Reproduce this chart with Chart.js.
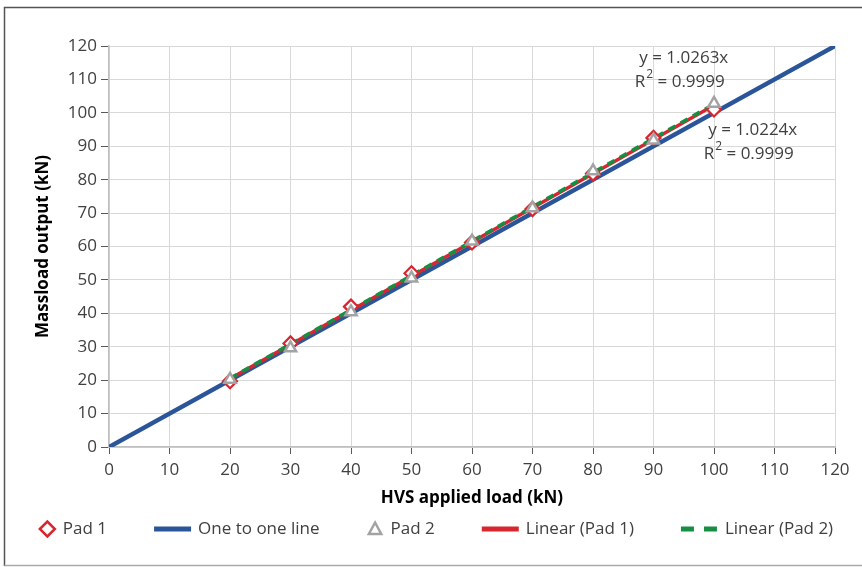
<!DOCTYPE html>
<html>
<head>
<meta charset="utf-8">
<script src="https://cdn.jsdelivr.net/npm/chart.js@4/dist/chart.umd.min.js"></script>
<style>
  html, body { margin: 0; padding: 0; background: #fff; }
  #wrap { position: relative; width: 862px; height: 567px; }
</style>
</head>
<body>
<div id="wrap"><canvas id="chart" width="862" height="567"></canvas></div>
<script>
'use strict';

// HVS applied load (kN)
const loads = [20, 30, 40, 50, 60, 70, 80, 90, 100];
// Massload output (kN)
const pad1 = [19.7, 31, 42, 52, 61.2, 71.2, 81.8, 92.5, 101];
const pad2 = [20.2, 29.6, 40.4, 50.5, 61.6, 71.5, 82.6, 91.8, 102.8];

// one to one line ends
const oneToOneX = [0, 120];
const oneToOneY = [0, 120];

// trendline ends (y = 1.0224x for Pad 1, y = 1.0263x for Pad 2)
const trendX = [20, 100];
const trend1Y = [20.45, 102.24];
const trend2Y = [20.53, 102.63];

const trendLabels = [
    { eq: 'y = 1.0263x', r2: '0.9999' },
    { eq: 'y = 1.0224x', r2: '0.9999' }
];

const axisTicks = [0, 10, 20, 30, 40, 50, 60, 70, 80, 90, 100, 110, 120];

const FONT = '"Open Sans", "Noto Sans", sans-serif';
const TEXT = '#404040';
const BLUE = '#2a5599';
const RED = '#d7262f';
const GREEN = '#178f42';
const GREY = '#a3a3a3';

const pts = (xs, ys) => xs.map((x, i) => ({ x: x, y: ys[i] }));

// where each trendline label is anchored (data units)
const labelAnchors = [{ x: 95, y: 116.4 }, { x: 106.4, y: 94.9 }];

const framePlugin = {
    id: 'frame',
    beforeDraw(chart) {
        const ctx = chart.ctx;
        ctx.save();
        ctx.fillStyle = '#fff';
        ctx.fillRect(0, 0, chart.width, chart.height);
        ctx.lineWidth = 1.5;
        ctx.strokeStyle = '#555';
        ctx.beginPath();
        ctx.moveTo(4.5, 566);
        ctx.lineTo(4.5, 7.5);
        ctx.lineTo(chart.width, 7.5);
        ctx.stroke();
        ctx.strokeStyle = '#aaa';
        ctx.beginPath();
        ctx.moveTo(4.5, 565.5);
        ctx.lineTo(chart.width, 565.5);
        ctx.stroke();
        ctx.restore();
    }
};

function drawR2(ctx, cx, y, val) {
    ctx.font = '17px ' + FONT;
    const wR = ctx.measureText('R').width + 1;
    const rest = ' = ' + val;
    const wRest = ctx.measureText(rest).width;
    ctx.font = '12px ' + FONT;
    const w2 = ctx.measureText('2').width;
    const total = wR + w2 + wRest;
    let x = cx - total / 2;
    ctx.textAlign = 'left';
    ctx.font = '17px ' + FONT;
    ctx.fillText('R', x, y);
    x += wR;
    ctx.font = '12px ' + FONT;
    ctx.fillText('2', x, y - 7);
    x += w2;
    ctx.font = '17px ' + FONT;
    ctx.fillText(rest, x, y);
}

const labelPlugin = {
    id: 'trendLabels',
    afterDatasetsDraw(chart) {
        const ctx = chart.ctx;
        const xs = chart.scales.x, ys = chart.scales.y;
        ctx.save();
        ctx.fillStyle = TEXT;
        ctx.textBaseline = 'middle';
        trendLabels.forEach((lab, i) => {
            const cx = xs.getPixelForValue(labelAnchors[i].x);
            const cy = ys.getPixelForValue(labelAnchors[i].y);
            ctx.font = '17px ' + FONT;
            ctx.textAlign = 'center';
            ctx.fillText(lab.eq, cx, cy);
            drawR2(ctx, cx - 4, cy + 24, lab.r2);
        });
        ctx.restore();
    }
};

function legendMarker(ctx, ds, x, y) {
    ctx.save();
    if (ds.legendKind === 'line') {
        ctx.strokeStyle = ds.borderColor;
        ctx.lineWidth = 5;
        ctx.setLineDash(ds.borderDash && ds.borderDash.length ? [13, 10] : []);
        ctx.beginPath();
        ctx.moveTo(x, y);
        ctx.lineTo(x + 37, y);
        ctx.stroke();
    } else {
        ctx.strokeStyle = ds.pointBorderColor;
        ctx.fillStyle = '#fff';
        ctx.lineWidth = 2.5;
        const c = x + 8.5;
        ctx.beginPath();
        if (ds.pointStyle === 'rectRot') {
            const r = 7.5;
            ctx.moveTo(c - r, y); ctx.lineTo(c, y - r); ctx.lineTo(c + r, y); ctx.lineTo(c, y + r);
        } else {
            const r = 6.5;
            ctx.moveTo(c, y - r); ctx.lineTo(c + r * 0.95, y + r * 0.75); ctx.lineTo(c - r * 0.95, y + r * 0.75);
        }
        ctx.closePath();
        ctx.fill();
        ctx.stroke();
    }
    ctx.restore();
    return ds.legendKind === 'line' ? 37 : 17;
}

const legendPlugin = {
    id: 'excelLegend',
    afterDraw(chart) {
        const ctx = chart.ctx;
        const items = chart.data.datasets.slice().sort((a, b) => a.legendIndex - b.legendIndex);
        ctx.save();
        ctx.font = '17px ' + FONT;
        const gapText = 7, gapItem = 47;
        let total = 0;
        items.forEach((ds, i) => {
            total += (ds.legendKind === 'line' ? 37 : 17) + gapText + ctx.measureText(ds.label).width;
            if (i < items.length - 1) total += gapItem;
        });
        let x = 436 - total / 2;
        const y = 529;
        items.forEach(ds => {
            x += legendMarker(ctx, ds, x, y) + gapText;
            ctx.font = '17px ' + FONT;
            ctx.fillStyle = TEXT;
            ctx.textAlign = 'left';
            ctx.textBaseline = 'middle';
            ctx.fillText(ds.label, x, y);
            x += ctx.measureText(ds.label).width + gapItem;
        });
        ctx.restore();
    }
};

const ctx = document.getElementById('chart').getContext('2d');
new Chart(ctx, {
    type: 'scatter',
    data: {
        datasets: [
            {
                label: 'Pad 2', data: pts(loads, pad2), legendIndex: 2, legendKind: 'point',
                pointStyle: 'triangle', pointRadius: 6.5, pointBorderWidth: 2.5,
                pointBackgroundColor: '#fff', pointBorderColor: GREY, showLine: false, order: 0
            },
            {
                label: 'Pad 1', data: pts(loads, pad1), legendIndex: 0, legendKind: 'point',
                pointStyle: 'rectRot', pointRadius: 7, pointBorderWidth: 2.2,
                pointBackgroundColor: '#fff', pointBorderColor: RED, showLine: false, order: 1
            },
            {
                label: 'Linear (Pad 2)', data: pts(trendX, trend2Y), legendIndex: 4, legendKind: 'line',
                showLine: true, borderColor: GREEN, borderWidth: 3.5, borderDash: [8, 6],
                borderCapStyle: 'butt', pointRadius: 0, order: 2
            },
            {
                label: 'Linear (Pad 1)', data: pts(trendX, trend1Y), legendIndex: 3, legendKind: 'line',
                showLine: true, borderColor: RED, borderWidth: 3.5, pointRadius: 0, order: 3
            },
            {
                label: 'One to one line', data: pts(oneToOneX, oneToOneY), legendIndex: 1, legendKind: 'line',
                showLine: true, borderColor: BLUE, borderWidth: 4.5, pointRadius: 0, order: 4
            }
        ]
    },
    options: {
        responsive: false,
        animation: false,
        layout: { padding: { left: 0, top: 46, right: 27, bottom: 59 } },
        scales: {
            x: {
                type: 'linear', min: 0, max: 120,
                afterBuildTicks: s => { s.ticks = axisTicks.map(v => ({ value: v })); },
                afterFit: s => { s.height = 61; },
                grid: { color: '#d9d9d9', tickColor: '#595959', tickLength: 7 },
                border: { color: '#bfbfbf', width: 1.5 },
                ticks: { color: TEXT, font: { family: FONT, size: 17 }, padding: 6, maxRotation: 0 },
                title: { display: true, text: 'HVS applied load (kN)', color: '#000',
                         font: { family: FONT, size: 17, weight: 'bold' }, padding: 0 }
            },
            y: {
                type: 'linear', min: 0, max: 120,
                afterBuildTicks: s => { s.ticks = axisTicks.map(v => ({ value: v })); },
                afterFit: s => { s.width = 109; },
                grid: { color: '#d9d9d9', tickColor: '#595959', tickLength: 8 },
                border: { color: '#bfbfbf', width: 1.5 },
                ticks: { color: TEXT, font: { family: FONT, size: 17 }, padding: 4 },
                title: { display: true, text: 'Massload output (kN)', color: '#000',
                         font: { family: FONT, size: 17, weight: 'bold' }, padding: { top: 33, bottom: 0 } }
            }
        },
        plugins: {
            legend: { display: false },
            tooltip: { enabled: false }
        }
    },
    plugins: [framePlugin, labelPlugin, legendPlugin]
});
</script>
</body>
</html>
